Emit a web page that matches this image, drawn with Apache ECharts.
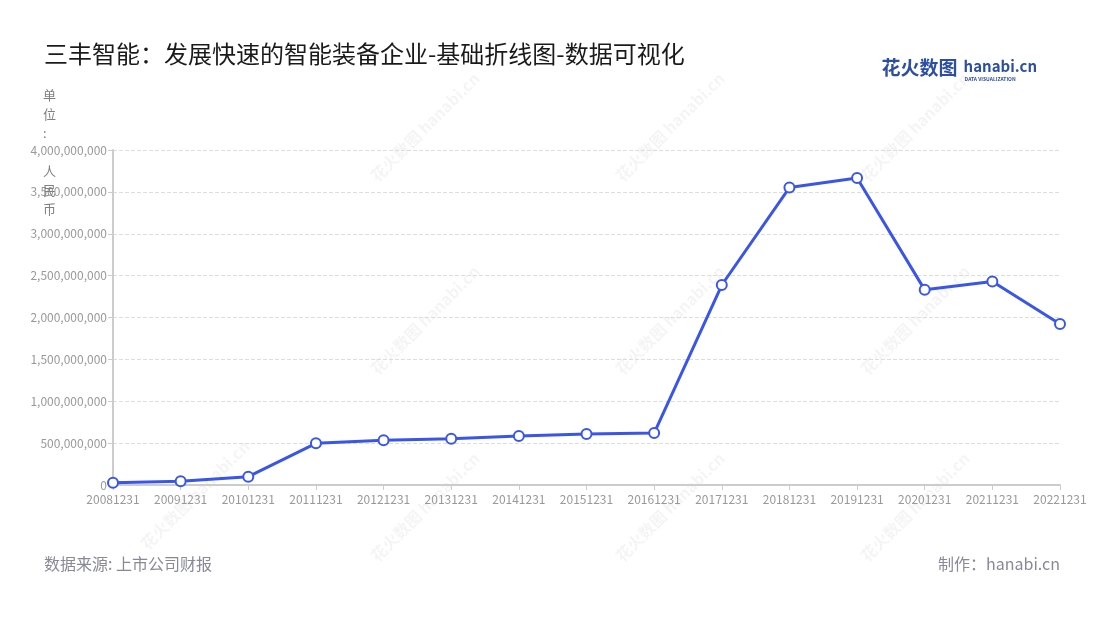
<!DOCTYPE html>
<html>
<head>
<meta charset="utf-8">
<script src="https://cdn.jsdelivr.net/npm/echarts@6/dist/echarts.min.js"></script>
<style>
html,body{margin:0;padding:0;background:#fff;}
#main{width:1100px;height:620px;}
</style>
</head>
<body>
<div id="main"></div>
<script>
var categories = ['20081231','20091231','20101231','20111231','20121231','20131231','20141231','20151231','20161231','20171231','20181231','20191231','20201231','20211231','20221231'];
var values = [27000000, 44000000, 99000000, 498000000, 535000000, 553000000, 585000000, 609000000, 620000000, 2388000000, 3552000000, 3666000000, 2330000000, 2430000000, 1922000000];
var titleText = '三丰智能：发展快速的智能装备企业-基础折线图-数据可视化';
var unitText = '单\n位\n:\n \n人\n民\n币';
var sourceText = '数据来源: 上市公司财报';
var makerText = '制作：hanabi.cn';

var FONT = '"Noto Sans CJK SC", "Noto Sans", sans-serif';
var chart = echarts.init(document.getElementById('main'));

var wm = [];
var wmPos = [[425,127],[670,127],[915,127],[425,320],[670,320],[915,320],[195,495],[425,507],[670,507],[915,507]];
wmPos.forEach(function (p) {
  wm.push({
    type: 'text', x: p[0], y: p[1], rotation: Math.PI / 4, silent: true, z: 0,
    style: { text: '花火数图 hanabi.cn', fill: 'rgba(0,0,0,0.045)', font: 'bold 16px ' + FONT, align: 'center', verticalAlign: 'middle' }
  });
});

chart.setOption({
  backgroundColor: '#ffffff',
  textStyle: { fontFamily: FONT },
  title: {
    text: titleText,
    left: 39, top: 37,
    textStyle: { fontSize: 24, fontWeight: 'normal', color: '#1a1a1a', fontFamily: FONT }
  },
  grid: { left: 113, right: 40, top: 150, bottom: 135, containLabel: false },
  xAxis: {
    type: 'category',
    data: categories,
    boundaryGap: false,
    axisLine: { show: true, lineStyle: { color: '#cccccc', width: 2 } },
    axisTick: { show: true, alignWithLabel: true, lineStyle: { color: '#cccccc' } },
    axisLabel: { color: '#999999', fontSize: 12, margin: 8, interval: 0, fontFamily: FONT }
  },
  yAxis: {
    type: 'value',
    min: 0, max: 4000000000, interval: 500000000,
    axisLine: { show: true, lineStyle: { color: '#cccccc', width: 2 } },
    axisTick: { show: true, lineStyle: { color: '#cccccc' } },
    axisLabel: {
      color: '#999999', fontSize: 12, margin: 6, fontFamily: FONT,
      formatter: function (v) { return v.toLocaleString('en-US'); }
    },
    splitLine: { show: true, lineStyle: { color: '#dddddd', type: 'dashed' } }
  },
  series: [{
    type: 'line',
    data: values,
    symbol: 'circle',
    symbolSize: 10,
    showAllSymbol: true,
    lineStyle: { color: '#3a56ea', width: 3 },
    itemStyle: { color: '#ffffff', borderColor: '#3a56ea', borderWidth: 2 },
    z: 5
  }],
  graphic: wm.concat([
    {
      type: 'text', left: 43, top: 86, z: 10,
      style: { text: unitText, fill: '#808080', font: '13px ' + FONT, lineHeight: 19 }
    },
    {
      type: 'group', right: 63, top: 58, z: 10,
      children: [
        { type: 'text', x: 0, y: 0, style: { text: '花火数图', fill: '#2d4fa3', font: 'bold 19px ' + FONT } },
        { type: 'text', x: 82, y: 1, style: { text: 'hanabi.cn', fill: '#2d4fa3', font: 'bold 15px ' + FONT } },
        { type: 'text', x: 83, y: 19, style: { text: 'DATA VISUALIZATION', fill: '#2d4fa3', font: 'bold 5px ' + FONT } }
      ]
    },
    {
      type: 'text', left: 44, top: 556, z: 10,
      style: { text: sourceText, fill: '#888899', font: '16px ' + FONT }
    },
    {
      type: 'text', right: 40, top: 556, z: 10,
      style: { text: makerText, fill: '#888899', font: '16px ' + FONT }
    }
  ])
});
</script>
</body>
</html>
